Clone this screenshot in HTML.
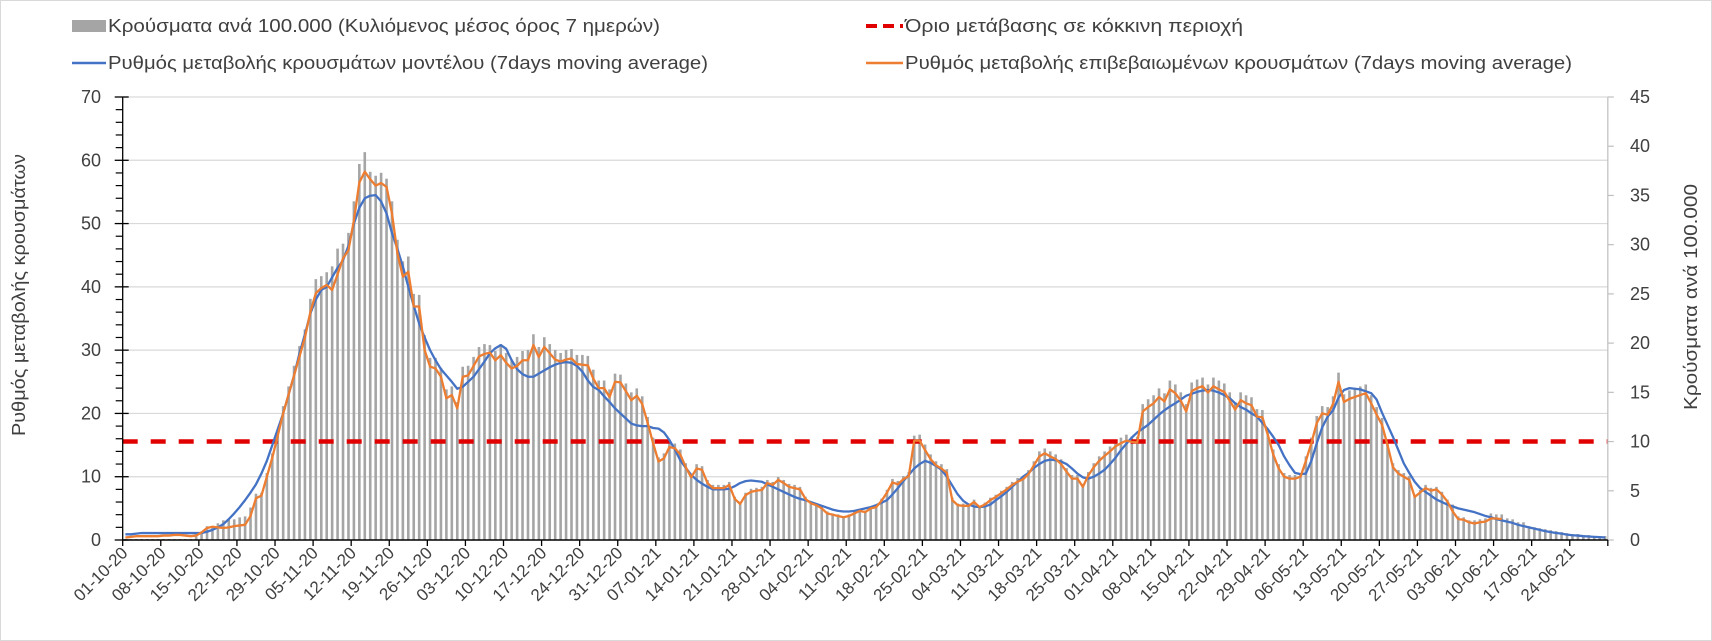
<!DOCTYPE html>
<html><head><meta charset="utf-8">
<style>
html,body{margin:0;padding:0;background:#fff;}
#wrap{position:relative;width:1712px;height:641px;overflow:hidden;}
svg text{font-family:"Liberation Sans","DejaVu Sans",sans-serif;fill:#404040;}
</style></head>
<body>
<div id="wrap">
<svg id="chart" width="1712" height="641" viewBox="0 0 1712 641" xmlns="http://www.w3.org/2000/svg">
  <rect x="0.5" y="0.5" width="1711" height="640" fill="#fff" stroke="#d9d9d9"/>
  <g>
    <g>
      <rect x="72" y="20" width="34" height="12" fill="#a5a5a5"/>
      <text x="108" y="32" font-size="18" textLength="552" lengthAdjust="spacingAndGlyphs">Κρούσματα ανά 100.000 (Κυλιόμενος μέσος όρος 7 ημερών)</text>
    </g>
    <g>
      <line x1="72" y1="63" x2="106" y2="63" stroke="#4472c4" stroke-width="2.5"/>
      <text x="108" y="69" font-size="18" textLength="600" lengthAdjust="spacingAndGlyphs">Ρυθμός μεταβολής κρουσμάτων μοντέλου (7days moving average)</text>
    </g>
    <g>
      <line x1="866" y1="26" x2="903" y2="26" stroke="#e00000" stroke-width="4" stroke-dasharray="11,6"/>
      <text x="905" y="32" font-size="18" textLength="338" lengthAdjust="spacingAndGlyphs">Όριο μετάβασης σε κόκκινη περιοχή</text>
    </g>
    <g>
      <line x1="866" y1="63" x2="903" y2="63" stroke="#ed7d31" stroke-width="2.5"/>
      <text x="905" y="69" font-size="18" textLength="667" lengthAdjust="spacingAndGlyphs">Ρυθμός μεταβολής επιβεβαιωμένων κρουσμάτων (7days moving average)</text>
    </g>
  </g>
  <text transform="translate(25,295) rotate(-90)" text-anchor="middle" font-size="18" textLength="282" lengthAdjust="spacingAndGlyphs">Ρυθμός μεταβολής κρουσμάτων</text>
  <text transform="translate(1697,297) rotate(-90)" text-anchor="middle" font-size="18" textLength="226" lengthAdjust="spacingAndGlyphs">Κρούσματα ανά 100.000</text>
  <g id="grid"></g>
  <g id="bars"></g>
  <g id="thr"></g>
  <g id="lines"></g>
  <g id="axes"></g>
</svg>
</div>
<script>
const dateLabels = ["01-10-20","08-10-20","15-10-20","22-10-20","29-10-20","05-11-20","12-11-20","19-11-20","26-11-20","03-12-20","10-12-20","17-12-20","24-12-20","31-12-20","07-01-21","14-01-21","21-01-21","28-01-21","04-02-21","11-02-21","18-02-21","25-02-21","04-03-21","11-03-21","18-03-21","25-03-21","01-04-21","08-04-21","15-04-21","22-04-21","29-04-21","06-05-21","13-05-21","20-05-21","27-05-21","03-06-21","10-06-21","17-06-21","24-06-21"];
const leftTicks = [0,10,20,30,40,50,60,70];
const rightTicks = [0,5,10,15,20,25,30,35,40,45];
const redThreshold = 10;
const casesPer100k = [
0.1,0.1,0.1,0.1,0.1,0.1,0.1,
0.1,0.1,0.1,0.1,0.1,0.1,0.6,
0.85,1.4,1.4,1.7,2.0,2.1,2.1,
2.3,2.4,3.3,4.7,4.8,6.8,8.8,
11.2,13.6,15.6,17.7,19.7,21.4,24.5,
26.5,26.8,27.2,27.8,29.6,30.1,31.2,
34.4,38.2,39.4,37.4,37.0,37.3,36.7,
34.4,30.5,28.3,28.8,25.0,24.9,20.8,
18.5,18.5,17.5,15.3,15.6,14.0,17.6,
17.7,18.6,19.6,19.9,19.8,19.2,19.9,
19.0,18.3,18.6,19.2,19.3,20.9,19.6,
20.6,19.9,19.3,19.0,19.3,19.4,18.8,
18.8,18.7,17.3,16.2,16.2,15.3,16.9,
16.8,15.9,15.0,15.4,14.6,12.5,10.4,
8.4,8.8,10.0,9.8,9.2,7.8,6.7,
7.7,7.5,6.1,5.6,5.6,5.6,5.9,
4.4,3.9,4.8,5.2,5.3,5.4,6.1,
5.9,6.4,6.1,5.7,5.6,5.4,4.4,
3.9,3.7,3.4,2.9,2.7,2.6,2.4,
2.6,2.9,3.1,3.0,3.4,3.5,4.2,
5.1,6.2,6.0,6.5,6.9,10.6,10.7,
9.7,8.7,8.0,7.7,7.2,4.3,3.7,
3.7,3.7,4.1,3.5,3.8,4.3,4.6,
5.0,5.4,5.9,6.3,6.5,7.1,8.0,
9.0,9.3,9.0,8.7,8.2,7.3,6.6,
6.6,5.7,6.9,7.8,8.5,9.0,9.5,
10.1,10.4,10.7,10.5,10.5,13.8,14.3,
14.7,15.4,14.9,16.2,15.8,15.0,13.8,
16.0,16.3,16.5,15.8,16.5,16.2,15.9,
15.0,14.0,15.0,14.7,14.5,13.3,13.2,
11.3,9.2,7.7,6.8,6.6,6.6,6.8,
8.5,10.4,12.6,13.6,13.5,14.6,17.0,
14.8,15.2,15.4,15.6,15.8,14.7,13.5,
12.4,10.2,7.8,7.1,6.8,6.5,4.6,
5.1,5.6,5.3,5.4,4.9,4.1,3.6,
2.4,2.3,2.0,2.0,2.1,2.2,2.7,
2.6,2.6,2.2,2.1,1.8,1.8,1.4,
1.3,1.2,1.1,1.0,0.9,0.8,0.7,
0.6,0.6,0.5,0.5,0.4,0.4,0.4];
const modelRate = [
0.9,0.9,1,1.1,1.1,1.1,1.1,
1.1,1.1,1.1,1.1,1.1,1.1,1.1,
1.1,1.3,1.6,2,2.5,3.3,4.2,
5.2,6.3,7.5,8.8,10.5,12.5,15,
17.5,20,23,26,29.5,32.5,35.8,
38,39.5,40,41.5,43,44.2,46.5,
50,52.5,54,54.4,54.5,53.5,51.6,
48.5,46,43.2,40,37,34.2,32,
30,28.4,27,26,25,23.9,24.2,
25,25.8,27,28.2,29.5,30.3,30.8,
30.2,28.4,27,26.2,25.8,25.8,26.3,
26.8,27.3,27.7,28,28.1,28,27.5,
26.6,25.2,24.2,23.7,22.7,21.8,20.8,
20,19.2,18.4,18.1,18,18,17.7,
17.6,17,15.8,14.3,12.6,11.4,10.3,
9.5,8.9,8.4,8,8,8,8.1,
8.5,9,9.3,9.4,9.3,9.2,8.8,
8.4,8,7.6,7.2,6.8,6.5,6.3,
6,5.7,5.4,5.1,4.8,4.6,4.5,
4.5,4.6,4.8,5,5.2,5.5,5.9,
6.3,7.2,8.2,9.3,10.3,11.3,12,
12.5,12.2,11.7,11.1,10,8.6,7.2,
6.2,5.6,5.3,5.2,5.3,5.6,6.3,
6.9,7.6,8.4,9.2,10,10.6,11.4,
12,12.5,12.7,12.6,12.4,12,11.3,
10.5,9.9,9.7,10,10.5,11.1,12,
13,14.2,15.2,16.2,17,17.6,18.2,
19,19.8,20.5,21.1,21.6,22.2,22.8,
23.1,23.4,23.6,23.7,23.6,23.3,22.9,
22.4,21.6,21,20.6,20,19.5,18.5,
17.5,16.3,15,13.2,11.8,10.6,10.4,
10.5,12.5,15.3,17.8,19.5,20.5,22.5,
23.7,24,23.9,23.8,23.5,23.2,22.2,
20.1,18.2,16.3,14.2,12.1,10.6,9.2,
8.2,7.6,7,6.4,6,5.6,5.3,
5,4.8,4.6,4.4,4.1,3.8,3.6,
3.3,3.1,2.9,2.7,2.4,2.2,2,
1.8,1.6,1.4,1.25,1.1,1,0.85,
0.75,0.7,0.6,0.55,0.5,0.45,0.4];
const confirmedRate = [
0.4,0.5,0.6,0.6,0.6,0.6,0.6,
0.7,0.7,0.8,0.8,0.7,0.6,0.7,
1.2,1.9,2.1,2.0,1.9,2.0,2.2,
2.3,2.4,3.8,6.6,7.0,10,13,
16.5,20,23,26,29,32,36,
39,39.8,40.3,39.5,42,44.5,45.8,
50.5,56.5,58.2,57,56,56.4,55.8,
51.6,45.3,41.6,42.4,36.9,36.9,30,
27.4,27.1,25.8,22.4,22.9,20.8,25.8,
26,27.5,29,29.4,29.6,28.4,29.2,
28,27.1,27.5,28.4,28.4,30.8,28.9,
30.5,29.5,28.5,28.2,28.5,28.7,27.8,
27.7,27.6,25.5,24,24,22.6,25,
24.9,23.5,22.1,22.8,21.5,18.5,15.3,
12.4,12.9,14.7,14.5,13.5,11.5,9.9,
11.3,11.1,9,8.2,8.2,8.2,8.7,
6.5,5.7,7.1,7.6,7.8,7.9,9,
8.7,9.5,9,8.4,8.2,8,6.5,
5.8,5.5,5,4.2,4,3.8,3.6,
3.8,4.2,4.6,4.4,5,5.2,6.2,
7.5,9.1,8.8,9.6,10.1,15.7,15.7,
14.2,12.8,11.8,11.3,10.6,6.3,5.5,
5.4,5.4,6.0,5.2,5.6,6.3,6.8,
7.4,8,8.7,9.2,9.6,10.4,11.8,
13.2,13.7,13.2,12.8,12,10.8,9.7,
9.7,8.4,10.2,11.5,12.5,13.3,14,
14.8,15.3,15.7,15.5,15.4,20.3,21,
21.6,22.6,21.9,23.8,23.2,22,20.3,
23.5,24,24.3,23.3,24.3,23.8,23.4,
22,20.6,22.1,21.6,21.3,19.5,19.4,
16.6,13.5,11.3,10,9.7,9.7,10,
12.5,15.3,18.5,20,19.8,21.5,25,
21.8,22.3,22.6,22.9,23.2,21.6,19.8,
18.2,15,11.5,10.5,10,9.5,6.8,
7.5,8.2,7.8,8,7.2,6.1,4.5,
3.3,3.2,2.8,2.6,2.8,2.9,3.4,
3.4,3.3];

const NS = "http://www.w3.org/2000/svg";
const X0 = 122.7, DW = 5.44, NDAYS = 273, Y0 = 540, YTOP = 97;
const X1 = X0 + NDAYS * DW;
function xDay(i){ return X0 + (i + 0.5) * DW; }
function xEdge(i){ return X0 + i * DW; }
function yL(v){ return Y0 - v * (Y0 - YTOP) / 70; }
function yR(v){ return Y0 - v * (Y0 - YTOP) / 45; }
function mk(tag, attrs, parent){
  const e = document.createElementNS(NS, tag);
  for (const k in attrs) e.setAttribute(k, attrs[k]);
  parent.appendChild(e);
  return e;
}
const grid = document.getElementById('grid');
const bars = document.getElementById('bars');
const thr = document.getElementById('thr');
const lines = document.getElementById('lines');
const axes = document.getElementById('axes');

leftTicks.forEach(function(v){
  if (v > 0) {
    const g = mk('line', {x1:X0, x2:X1, y1:yL(v), y2:yL(v), stroke:'#d9d9d9', 'stroke-width':1.2}, grid);
    
    
  }
  const t = mk('text', {x:101, y:yL(v)+6, 'text-anchor':'end', 'font-size':18}, axes);
  t.textContent = v;
  
  
  const tk = mk('line', {x1:X0-8, x2:X0+6, y1:yL(v), y2:yL(v), stroke:'#000', 'stroke-width':1.3}, axes);
  
  
});
for (let v = 2; v < 70; v += 2) {
  if (v % 10 === 0) continue;
  const mt = mk('line', {x1:X0-7, x2:X0, y1:yL(v), y2:yL(v), stroke:'#000', 'stroke-width':1.2}, axes);
  
  
}
rightTicks.forEach(function(v){
  const t = mk('text', {x:1630, y:yR(v)+6, 'text-anchor':'start', 'font-size':18}, axes);
  t.textContent = v;
  
  
  const tk = mk('line', {x1:X1, x2:X1+6, y1:yR(v), y2:yR(v), stroke:'#bfbfbf', 'stroke-width':1.2}, axes);
  
  
});

casesPer100k.forEach(function(v, i){
  const b = mk('rect', {x:xDay(i)-1.3, y:yR(v), width:2.6, height:Math.max(0, Y0 - yR(v)), fill:'#a5a5a5'}, bars);
  
  
});

const tl = mk('line', {x1:X0, x2:X1, y1:yR(redThreshold), y2:yR(redThreshold), stroke:'#e00000', 'stroke-width':4.5, 'stroke-dasharray':'15,13'}, thr);



function poly(arr, color, name){
  const pts = arr.map(function(v, i){ return xDay(i).toFixed(2) + ',' + yL(v).toFixed(2); }).join(' ');
  const p = mk('polyline', {points:pts, fill:'none', stroke:color, 'stroke-width':2.3, 'stroke-linejoin':'round'}, lines);
  
  
}
poly(modelRate, '#4472c4', 'model-rate-line');
poly(confirmedRate, '#ed7d31', 'confirmed-rate-line');

const la = mk('line', {x1:X0, x2:X0, y1:YTOP, y2:Y0, stroke:'#000', 'stroke-width':1.3}, axes);


const ra = mk('line', {x1:X1, x2:X1, y1:YTOP, y2:Y0, stroke:'#bfbfbf', 'stroke-width':1.2}, axes);


const xa = mk('line', {x1:X0, x2:X1, y1:Y0, y2:Y0, stroke:'#000', 'stroke-width':1.5}, axes);


const endTick = mk('line', {x1:X1, x2:X1, y1:Y0, y2:Y0+6, stroke:'#000', 'stroke-width':1.3}, axes);



dateLabels.forEach(function(lab, k){
  const tx = xEdge(k * 7);
  const tk = mk('line', {x1:tx, x2:tx, y1:Y0, y2:Y0+6, stroke:'#000', 'stroke-width':1.3}, axes);
  
  
  const t = mk('text', {transform:'translate(' + (tx+6).toFixed(1) + ',554) rotate(-45)', 'text-anchor':'end', 'font-size':17}, axes);
  t.textContent = lab;
  
  
});
</script>
</body></html>
